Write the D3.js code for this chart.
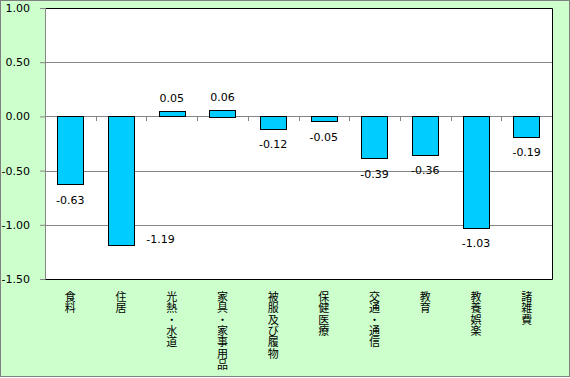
<!DOCTYPE html>
<html>
<head>
<meta charset="utf-8">
<script src="https://cdn.jsdelivr.net/npm/d3@7"></script>
<style>
  body { margin: 0; background: #fff; }
  text { font-family: "DejaVu Sans", Verdana, sans-serif; }
  .cat { font-family: "Noto Sans CJK JP", sans-serif; }
</style>
</head>
<body>
<svg id="chart" width="570" height="378"></svg>
<script>
const categories = ['食料', '住居', '光熱・水道', '家具・家事用品', '被服及び履物',
                    '保健医療', '交通・通信', '教育', '教養娯楽', '諸雑費'];
const values = [-0.63, -1.19, 0.05, 0.06, -0.12, -0.05, -0.39, -0.36, -1.03, -0.19];
const yTicks = [1.00, 0.50, 0.00, -0.50, -1.00, -1.50];

const W = 570, H = 378;
const margin = { top: 8, right: 18, bottom: 99, left: 45 };
const plotW = W - margin.left - margin.right;
const plotH = H - margin.top - margin.bottom;

// plain hyphen instead of the unicode minus d3 uses
const fmt = (d) => d.toFixed(2);

const svg = d3.select('#chart');

// outer chart area
svg.append('rect')
    .attr('x', 0.5).attr('y', 0.5)
    .attr('width', W - 1).attr('height', H - 2)
    .attr('fill', '#ccffcc')
    .attr('stroke', '#808080');

const x = d3.scaleBand()
    .domain(categories)
    .range([0, plotW])
    .paddingInner(0.48)
    .paddingOuter(0.24);

const y = d3.scaleLinear()
    .domain([-1.5, 1.0])
    .range([plotH, 0]);

const g = svg.append('g')
    .attr('transform', `translate(${margin.left},${margin.top})`);

g.append('rect')
    .attr('width', plotW).attr('height', plotH)
    .attr('fill', '#fff');

// gridlines
g.selectAll('.grid')
    .data(yTicks.filter((d) => d !== 1.0 && d !== -1.5))
    .enter()
    .append('line')
    .attr('x1', 0).attr('x2', plotW)
    .attr('y1', (d) => Math.round(y(d)) + 0.5)
    .attr('y2', (d) => Math.round(y(d)) + 0.5)
    .attr('stroke', '#868686');

// y axis
const yAxis = g.append('g')
    .call(d3.axisLeft(y).tickValues(yTicks).tickFormat(fmt).tickSize(5).tickPadding(10));
yAxis.select('.domain').attr('stroke', '#868686');
yAxis.selectAll('.tick line').attr('stroke', '#868686');
yAxis.selectAll('.tick text')
    .attr('fill', '#000')
    .style('font-size', '11px')
    .style('font-family', '"DejaVu Sans", Verdana, sans-serif');

// category tick marks on zero line
g.selectAll('.ctick')
    .data(d3.range(categories.length + 1))
    .enter()
    .append('line')
    .attr('x1', (d) => Math.round(d * plotW / categories.length) + 0.5)
    .attr('x2', (d) => Math.round(d * plotW / categories.length) + 0.5)
    .attr('y1', Math.round(y(0)))
    .attr('y2', Math.round(y(0)) + 5)
    .attr('stroke', '#868686');

// bars
g.selectAll('.bar')
    .data(values)
    .enter()
    .append('rect')
    .attr('x', (d, i) => Math.round(x(categories[i])) + 0.5)
    .attr('y', (d) => Math.round(y(Math.max(0, d))) + 0.5)
    .attr('width', Math.round(x.bandwidth()))
    .attr('height', (d) => Math.max(1, Math.round(Math.abs(y(d) - y(0)))))
    .attr('fill', '#00ccff')
    .attr('stroke', '#000')
    .attr('stroke-width', 1);

// value labels
g.selectAll('.vlabel')
    .data(values)
    .enter()
    .append('text')
    .attr('x', (d, i) => {
        const cx = x(categories[i]) + x.bandwidth() / 2;
        // the -1.19 label sits beside its bar
        return i === 1 ? x(categories[i]) + x.bandwidth() + 12 : cx;
    })
    .attr('y', (d, i) => {
        if (i === 1) return y(d) - 2;
        return d >= 0 ? y(d) - 9 : y(d) + 19;
    })
    .attr('text-anchor', (d, i) => i === 1 ? 'start' : 'middle')
    .style('font-size', '11px')
    .attr('fill', '#000')
    .text(fmt);

// plot border (top, right, bottom black)
g.append('path')
    .attr('d', `M0.5,0.5H${plotW + 0.5}V${plotH + 0.5}H0.5`)
    .attr('fill', 'none')
    .attr('stroke', '#000');
g.append('line')
    .attr('x1', 0.5).attr('x2', 0.5)
    .attr('y1', 0).attr('y2', plotH)
    .attr('stroke', '#868686');

// vertical category labels, one glyph per row
const charH = 11.3;
categories.forEach((c, i) => {
    const cx = x(c) + x.bandwidth() / 2;
    Array.from(c).forEach((ch, j) => {
        g.append('text')
            .attr('class', 'cat')
            .attr('x', cx)
            .attr('y', plotH + 22 + j * charH)
            .attr('text-anchor', 'middle')
            .style('font-size', '11px')
            .attr('fill', '#000')
            .text(ch);
    });
});
</script>
</body>
</html>
